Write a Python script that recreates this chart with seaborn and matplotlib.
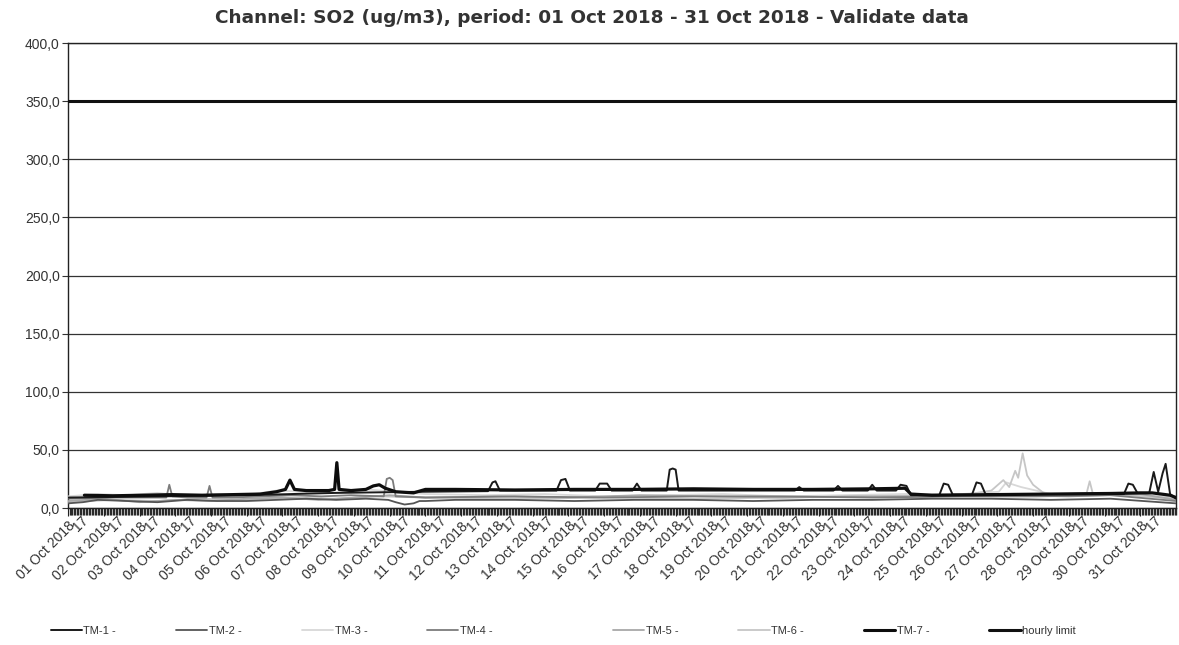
import matplotlib
matplotlib.use('Agg')
import pandas as pd
import numpy as np
import matplotlib.pyplot as plt
import matplotlib.dates as mdates
import matplotlib.transforms as mtransforms
from matplotlib.lines import Line2D
import seaborn as sns

# Hours counted from 01 Oct 2018 00:00, values in ug/m3
tm1_hours = [0, 60, 120, 180, 240, 282, 285, 287, 290, 328, 331, 334, 337, 354, 357, 362, 365,
             379, 382, 385, 402, 404, 406, 408, 410, 450, 488, 491, 494, 514, 517, 520, 537, 540,
             543, 556, 559, 563, 566, 585, 588, 591, 594, 607, 610, 613, 616, 660, 709, 712, 715,
             718, 726, 729, 732, 735, 737, 740, 744]
tm1_vals = [9, 10, 11, 13, 14, 14.5, 22, 23, 15, 15, 24, 25, 15, 15, 21, 21, 15,
            15, 21, 15, 15, 33, 34, 33, 15, 15, 15, 18, 15, 15, 19, 15, 15, 20,
            15, 15, 20, 19, 11, 11, 21, 20, 11.5, 11.5, 22, 21, 12, 12, 12, 21, 20,
            13, 13, 31, 14, 30, 38, 12, 8]

tm2_hours = [0, 10, 20, 40, 60, 80, 100, 120, 140, 160, 180, 200, 215, 220, 226, 232, 236, 240,
             260, 300, 340, 380, 420, 460, 500, 540, 580, 620, 660, 700, 744]
tm2_vals = [4, 5, 7, 6, 5, 7, 6, 6, 7, 8, 7, 8, 7, 5, 3, 4, 6, 6,
            7, 7, 6, 7, 7, 6, 7, 7, 8, 8, 7, 8, 4]

tm3_hours = [0, 20, 40, 60, 80, 100, 120, 140, 160, 180, 200, 240, 280, 320, 360, 400, 440, 480,
             520, 560, 600, 625, 630, 640, 650, 660, 700, 744]
tm3_vals = [10, 12, 11, 13, 10, 12, 11, 15, 14, 13, 16, 12, 11, 12, 10, 11, 12, 10,
            11, 12, 12, 14, 22, 18, 15, 12, 13, 9]

tm4_hours = [0, 30, 55, 66, 68, 70, 80, 93, 95, 97, 110, 130, 150, 170, 190, 212, 214, 216, 218,
             220, 240, 300, 360, 420, 480, 540, 600, 650, 700, 744]
tm4_vals = [8, 9, 9, 9, 20, 10, 9, 9, 19, 9, 9, 10, 11, 10, 11, 10, 25, 26, 24,
            10, 9, 10, 9, 10, 10, 9, 10, 10, 11, 6]

tm5_hours = [0, 24, 48, 72, 96, 120, 144, 168, 192, 216, 240, 288, 336, 384, 432, 480, 528, 576,
             624, 672, 720, 744]
tm5_vals = [6, 8, 5, 7, 6, 8, 9, 7, 9, 11, 9, 10, 9, 11, 10, 9, 10, 10,
            11, 10, 12, 7]

tm6_hours = [0, 30, 60, 90, 120, 150, 180, 210, 240, 300, 360, 420, 480, 540, 600, 620, 628, 632,
             636, 638, 641, 644, 648, 656, 670, 684, 686, 688, 700, 744]
tm6_vals = [5, 7, 6, 8, 7, 9, 8, 10, 9, 8, 9, 8, 9, 10, 11, 15, 24, 18,
            32, 26, 47, 28, 20, 12, 12, 13, 23, 13, 12, 8]

tm7_hours = [11, 30, 50, 70, 90, 110, 129, 140, 146, 149, 152, 160, 175, 179, 180.5, 182, 190,
             200, 205, 209, 213, 220, 232, 240, 260, 300, 340, 380, 420, 460, 500, 540, 562,
             566, 580, 620, 660, 700, 720, 728, 734, 740, 744]
tm7_vals = [11, 10.5, 11, 11.5, 11, 11.5, 12, 14, 16, 24, 16, 15, 15, 16, 39, 16, 15,
            16, 19, 20, 17, 14, 13, 16, 16, 15.5, 16, 16, 16.5, 16, 16, 16.5, 17,
            12, 11, 11.5, 12, 12.5, 13, 13, 12, 11, 9]

limit_hours = [0, 744]
limit_vals = [350, 350]

series_names = ['TM-1 -', 'TM-2 -', 'TM-3 -', 'TM-4 -', 'TM-5 -', 'TM-6 -', 'TM-7 -', 'hourly limit']
series_colors = ['#1a1a1a', '#555555', '#d8d8d8', '#7c7c7c', '#a8a8a8', '#c6c6c6', '#0d0d0d', '#111111']
series_widths = [1.4, 1.3, 1.3, 1.3, 1.3, 1.3, 2.3, 2.2]

start = pd.Timestamp('2018-10-01')
days = pd.date_range(start, periods=31, freq='D')
data = [(tm1_hours, tm1_vals), (tm2_hours, tm2_vals), (tm3_hours, tm3_vals), (tm4_hours, tm4_vals),
        (tm5_hours, tm5_vals), (tm6_hours, tm6_vals), (tm7_hours, tm7_vals), (limit_hours, limit_vals)]

sns.set_theme(style='ticks')
plt.rcParams['font.family'] = ['Liberation Sans', 'DejaVu Sans']

fig = plt.figure(figsize=(11.79, 6.45), dpi=100)
ax = fig.add_axes([0.0577, 0.2124, 0.9398, 0.7209])

# light series first, dark ones on top
draw_order = [2, 5, 4, 3, 1, 0, 6, 7]
for i in draw_order:
    hrs, vals = data[i]
    d = pd.DataFrame({'time': start + pd.to_timedelta(hrs, unit='h'), 'value': vals})
    sns.lineplot(data=d, x='time', y='value', color=series_colors[i], linewidth=series_widths[i],
                 estimator=None, sort=False, ax=ax, zorder=3 + draw_order.index(i))

ax.set_xlim(start, start + pd.Timedelta(hours=744))
ax.set_ylim(0, 400)
ax.set_yticks(np.arange(0, 401, 50))
ax.yaxis.set_major_formatter(plt.FuncFormatter(lambda v, p: f'{v:.1f}'.replace('.', ',')))
ax.yaxis.grid(True, color='#333333', linewidth=0.9)
ax.set_axisbelow(True)
ax.set_xlabel('')
ax.set_ylabel('')

ax.set_xticks(mdates.date2num(days))
ax.set_xticklabels([d.strftime('%d Oct %Y') for d in days])
ax.xaxis.set_minor_locator(mdates.HourLocator())
ax.tick_params(axis='x', which='major', bottom=True, length=6, width=0.8, color='#222222',
               labelsize=10, labelcolor='#333333', pad=2)
ax.tick_params(axis='x', which='minor', bottom=True, length=5, width=1.0, color='#2a2a2a',
               direction='out')
ax.tick_params(axis='y', which='major', left=True, length=4, width=0.8, color='#333333',
               labelsize=10, labelcolor='#333333', pad=2)
for lab in ax.get_xticklabels():
    lab.set_rotation(45)
    lab.set_ha('right')
    lab.set_rotation_mode('anchor')

# small "17" hour labels after each date
trans = mtransforms.blended_transform_factory(ax.transData, ax.transAxes)
for day in days:
    ax.text(mdates.date2num(day + pd.Timedelta(hours=9)), -0.012, '17', transform=trans,
            rotation=45, rotation_mode='anchor', ha='right', va='top', fontsize=10, color='#333333')

for s in ax.spines.values():
    s.set_visible(True)
    s.set_color('#222222')
    s.set_linewidth(1)

fig.text(0.502, 0.972, 'Channel: SO2 (ug/m3), period: 01 Oct 2018 - 31 Oct 2018 - Validate data',
         ha='center', va='center', fontsize=13.3, fontweight='bold', color='#333333', family='DejaVu Sans')

handles = [Line2D([], [], color=c, linewidth=min(w, 2.2)) for c, w in zip(series_colors, series_widths)]
leg_kw = dict(ncol=4, frameon=False, fontsize=8, handlelength=2.8, handletextpad=0.15,
              columnspacing=5.4, borderpad=0, borderaxespad=0, labelcolor='#333333')
fig.legend(handles[:4], series_names[:4], loc='center left', bbox_to_anchor=(0.043, 0.022), **leg_kw)
fig.legend(handles[4:], series_names[4:], loc='center left', bbox_to_anchor=(0.52, 0.022), **leg_kw)

fig.savefig('out.png', dpi=100)
